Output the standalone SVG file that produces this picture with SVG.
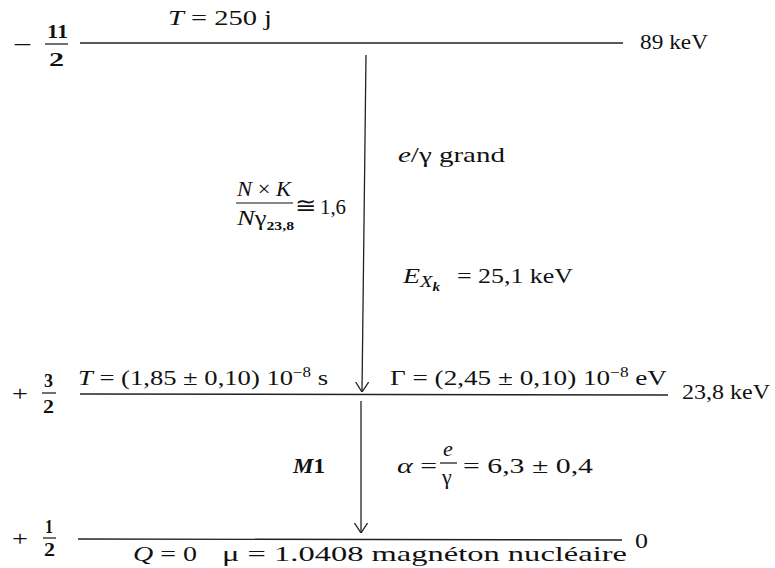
<svg xmlns="http://www.w3.org/2000/svg" width="775" height="568" viewBox="0 0 775 568" font-family="'Liberation Serif', 'Times New Roman', serif">
<style>
text{font-family:'Liberation Serif','Times New Roman',serif;font-size:22px;fill:#111}
.fr{font-weight:bold;font-size:19px}
.it{font-style:italic}
.lvl{stroke:#222;stroke-width:1.4;fill:none}
.bar{stroke:#111;stroke-width:1.2}
.arr{stroke:#222;stroke-width:1.3;fill:none;marker-end:url(#ah)}
</style>
<defs>
<marker id="ah" viewBox="0 0 10 14" refX="10" refY="7" markerWidth="10" markerHeight="14" markerUnits="userSpaceOnUse" orient="auto">
<path d="M0,0.5 L10,7 L0,13.5" fill="none" stroke="#222" stroke-width="1.3"/>
</marker>
</defs>
<rect width="775" height="568" fill="#fff"/>

<g id="level-89">
<line class="lvl" x1="80" y1="43" x2="623" y2="43"/>
<text x="13" y="52" textLength="19" lengthAdjust="spacingAndGlyphs">−</text>
<text class="fr" x="47" y="38" textLength="21" lengthAdjust="spacingAndGlyphs">11</text>
<line class="bar" x1="45" y1="44" x2="68" y2="44"/>
<text class="fr" x="49" y="66" textLength="15" lengthAdjust="spacingAndGlyphs">2</text>
<text x="168" y="25" textLength="104" lengthAdjust="spacingAndGlyphs"><tspan class="it">T</tspan> = 250 j</text>
<text x="640" y="49" textLength="68" lengthAdjust="spacingAndGlyphs">89 keV</text>
</g>

<g id="level-23">
<line class="lvl" x1="80" y1="394" x2="668" y2="395"/>
<text x="12" y="401" font-size="24" textLength="16" lengthAdjust="spacingAndGlyphs">+</text>
<text class="fr" x="44" y="387" textLength="9" lengthAdjust="spacingAndGlyphs">3</text>
<line class="bar" x1="42" y1="393" x2="56" y2="393"/>
<text class="fr" x="43" y="413" textLength="11" lengthAdjust="spacingAndGlyphs">2</text>
<text x="78" y="385" font-size="21" textLength="250" lengthAdjust="spacingAndGlyphs"><tspan class="it">T</tspan> = (1,85 ± 0,10) 10<tspan font-size="14" dy="-8">−8</tspan><tspan dy="8"> s</tspan></text>
<text x="390" y="385" font-size="21" textLength="277" lengthAdjust="spacingAndGlyphs">Γ = (2,45 ± 0,10) 10<tspan font-size="14" dy="-8">−8</tspan><tspan dy="8"> eV</tspan></text>
<text x="682" y="399" textLength="88" lengthAdjust="spacingAndGlyphs">23,8 keV</text>
</g>

<g id="level-0">
<line class="lvl" x1="78" y1="539" x2="622" y2="540"/>
<text x="12" y="546" font-size="24" textLength="16" lengthAdjust="spacingAndGlyphs">+</text>
<text class="fr" x="45" y="533" textLength="8" lengthAdjust="spacingAndGlyphs">1</text>
<line class="bar" x1="43" y1="538" x2="56" y2="538"/>
<text class="fr" x="44" y="556" textLength="11" lengthAdjust="spacingAndGlyphs">2</text>
<text x="635" y="548" textLength="13" lengthAdjust="spacingAndGlyphs">0</text>
<text x="133" y="561" textLength="64" lengthAdjust="spacingAndGlyphs"><tspan class="it">Q</tspan> = 0</text>
<text x="222" y="561" textLength="405" lengthAdjust="spacingAndGlyphs">μ = 1.0408 magnéton nucléaire</text>
</g>

<g id="connectors">
<line class="arr" x1="366" y1="55" x2="362" y2="392"/>
<line class="arr" x1="361" y1="401" x2="361" y2="533"/>
</g>

<g id="labels-upper">
<text x="398" y="162" textLength="107" lengthAdjust="spacingAndGlyphs"><tspan class="it">e</tspan>/γ grand</text>
<text x="237" y="196" textLength="54" lengthAdjust="spacingAndGlyphs"><tspan class="it">N</tspan> × <tspan class="it">K</tspan></text>
<line class="bar" x1="236" y1="203" x2="293" y2="203"/>
<text x="237" y="225" textLength="57" lengthAdjust="spacingAndGlyphs"><tspan class="it">N</tspan>γ<tspan font-size="13" font-weight="bold" dy="5">23,8</tspan></text>
<text x="295" y="213" font-size="24" textLength="21" lengthAdjust="spacingAndGlyphs">≅</text>
<text x="320" y="214" textLength="26" lengthAdjust="spacingAndGlyphs">1,6</text>
<text x="403" y="283" textLength="37" lengthAdjust="spacingAndGlyphs"><tspan class="it">E</tspan><tspan class="it" font-size="16" dy="4">X</tspan><tspan class="it" font-size="12" font-weight="bold" dy="4">k</tspan></text>
<text x="457" y="283" textLength="116" lengthAdjust="spacingAndGlyphs">= 25,1 keV</text>
</g>

<g id="labels-lower">
<text x="293" y="473" font-weight="bold" textLength="32" lengthAdjust="spacingAndGlyphs"><tspan class="it">M</tspan>1</text>
<text x="397" y="473" textLength="40" lengthAdjust="spacingAndGlyphs"><tspan class="it">α</tspan> =</text>
<text class="it" x="443" y="456" font-size="18">e</text>
<line class="bar" x1="440" y1="463" x2="457" y2="463"/>
<text x="442" y="484" font-size="18">γ</text>
<text x="463" y="473" textLength="130" lengthAdjust="spacingAndGlyphs">= 6,3 ± 0,4</text>
</g>
</svg>
